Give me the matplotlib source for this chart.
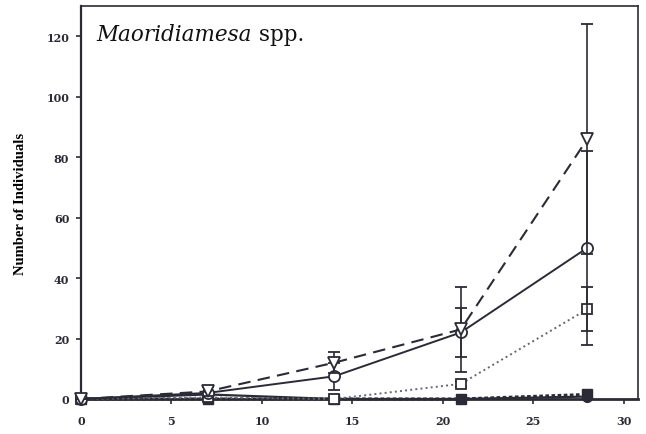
import matplotlib
matplotlib.use("Agg")
import matplotlib.pyplot as plt

# Sampling days and mean counts per treatment
days = [0, 7, 14, 21, 28]

tri_mean = [0, 2.5, 12, 23, 86]
tri_err = [0, 1.5, 3.5, 14, 38]

circ_mean = [0, 2, 7.5, 22, 50]
circ_err = [0, 0, 4.5, 8, 32]

sq_mean = [0, 0.5, 0, 5, 29.7]
sq_err = [0, 0, 0, 1, 7.2]

fcirc_mean = [0, 1.5, 0, 0, 0.8]
fsq_mean = [0, 0, 0, 0, 1.5]

xticks = [0, 5, 10, 15, 20, 25, 30]
yticks = [0, 20, 40, 60, 80, 100, 120]

ink = "#2b2b36"
serif = ["DejaVu Serif"]
label_serif = ["Liberation Serif", "DejaVu Serif"]

fig = plt.figure(figsize=(6.46, 4.35), dpi=100)
ax = fig.add_axes([0.1254, 0.0805, 0.8622, 0.9035])

ebkw = dict(ecolor=ink, elinewidth=1.2, capsize=4.5, capthick=1.2, clip_on=False)

ax.errorbar(days, fsq_mean, color=ink, linestyle=(0, (1.2, 0.8)), linewidth=2.2,
            marker="s", markersize=7, markerfacecolor=ink, markeredgecolor=ink,
            clip_on=False, zorder=3)
ax.errorbar(days, fcirc_mean, color=ink, linestyle="-", linewidth=1.6,
            marker="o", markersize=7, markerfacecolor=ink, markeredgecolor=ink,
            clip_on=False, zorder=3)
ax.errorbar(days, sq_mean, yerr=sq_err, color="#666670", linestyle=":", linewidth=1.4,
            marker="s", markersize=7, markerfacecolor="white", markeredgecolor=ink,
            markeredgewidth=1.3, zorder=4, **ebkw)
ax.errorbar(days, circ_mean, yerr=circ_err, color=ink, linestyle="-", linewidth=1.4,
            marker="o", markersize=8, markerfacecolor="white", markeredgecolor=ink,
            markeredgewidth=1.3, zorder=5, **ebkw)
ax.errorbar(days, tri_mean, yerr=tri_err, color=ink, linestyle=(0, (6, 3.5)), linewidth=1.5,
            marker="v", markersize=8, markerfacecolor="white", markeredgecolor=ink,
            markeredgewidth=1.3, zorder=6, **ebkw)

ax.set_xlim(0, 30.8)
ax.set_ylim(0, 130)
ax.set_xticks(xticks)
ax.set_yticks(yticks)
ax.set_xticklabels([str(v) for v in xticks], fontfamily=serif, fontweight="bold", fontsize=8)
ax.set_yticklabels([str(v) for v in yticks], fontfamily=serif, fontweight="bold", fontsize=8)
ax.tick_params(axis="both", direction="out", length=3.5, width=1.2, colors=ink)
ax.tick_params(axis="x", pad=8)
ax.tick_params(axis="y", pad=5)

ax.spines["left"].set_linewidth(1.6)
ax.spines["bottom"].set_linewidth(2.0)
ax.spines["top"].set_linewidth(1.2)
ax.spines["right"].set_linewidth(1.2)
for s in ax.spines.values():
    s.set_color(ink)

ax.set_ylabel("Number of Individuals", fontfamily=label_serif, fontweight="bold",
              fontsize=10.5, labelpad=14)

genus = ax.text(0.027, 0.957, "Maoridiamesa", transform=ax.transAxes, fontfamily=serif,
                style="italic", fontsize=15.5, va="top", ha="left", color="#111111")
ax.annotate(" spp.", xy=(1, 0), xycoords=genus, va="bottom", ha="left",
            fontfamily=serif, fontsize=15.5, color="#111111")

fig.savefig("out.png", dpi=100)
